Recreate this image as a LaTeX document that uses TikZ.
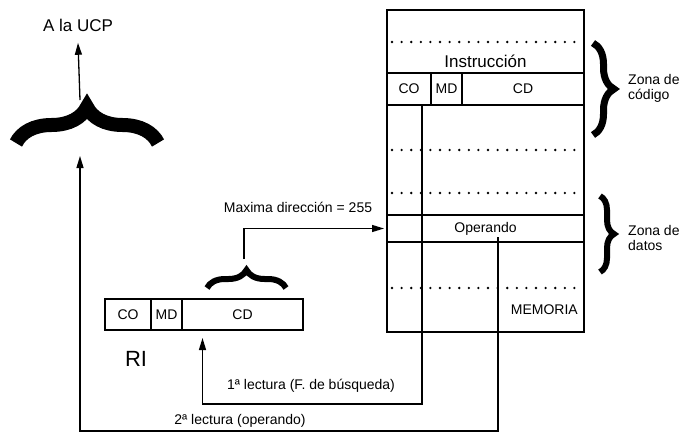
\documentclass[tikz,border=0pt]{standalone}
\usepackage{fontspec}
\setmainfont{Liberation Sans}
\usetikzlibrary{arrows.meta, positioning, decorations.pathreplacing}

\begin{document}
\begin{tikzpicture}[x=1pt, y=-1pt,
  txt/.style={font=\fontsize{14}{15}\selectfont, inner sep=1pt},
  cell/.style={rectangle, draw, line width=1.6pt, minimum height=32pt, inner sep=0pt, outer sep=0pt, font=\fontsize{14}{16}\selectfont},
  membox/.style={rectangle, draw, line width=2.6pt, minimum width=197pt, minimum height=322pt, outer sep=0pt},
  dots/.style={line width=2.6pt, line cap=round, dash pattern=on 0pt off 9.6pt},
  arrow/.style={-{Triangle[length=12pt,width=7pt]}, line width=1.3pt},
  curly/.style={decorate, decoration={brace, amplitude=#1}}
]
  \useasboundingbox (0,0) rectangle (687,436);

  % memoria
  \node[membox] (mem) at (485.5,171) {};
  \node[font=\fontsize{17}{19}\selectfont] (instr) at (485.5,61) {Instrucción};
  \node[cell, minimum width=44pt] (co) at (409,89) {CO};
  \node[cell, minimum width=31pt, right=0pt of co] (md) {MD};
  \node[cell, minimum width=122pt, right=0pt of md] (cd) {CD};
  \node[cell, minimum width=197pt, minimum height=27pt] (oper) at (485.5,228.5) {Operando};
  \foreach \y in {42,150,193,288}
    \draw[dots] (392,\y) -- (580,\y);
  \node[txt, anchor=east] (memlbl) at ([xshift=-5pt,yshift=22pt]mem.south east) {MEMORIA};

  % zonas
  \draw[curly=21, line width=7pt] (593,43) -- (593,135);
  \draw[curly=14, line width=6pt] (600,196) -- (600,272);
  \node[txt, align=left, anchor=west] (zcod) at (627,88) {Zona de\\código};
  \node[txt, align=left, anchor=west] (zdat) at (627,238) {Zona de\\datos};

  % registro de instruccion
  \node[cell, minimum width=46pt, minimum height=31pt] (rco) at (128,314.5) {CO};
  \node[cell, minimum width=31pt, minimum height=31pt, right=0pt of rco] (rmd) {MD};
  \node[cell, minimum width=121pt, minimum height=31pt, right=0pt of rmd] (rcd) {CD};
  \node[font=\fontsize{22}{24}\selectfont] (ri) at (136,359) {RI};

  \draw[curly=18, line width=6pt] (207,288) -- (286,288);
  \coordinate (ptr) at (244,259);
  \node[txt] (maxd) at (298,207) {Maxima dirección = 255};
  \draw[arrow, shorten >=3pt] (ptr) |- (oper.west);

  % UCP
  \draw[curly=36, line width=14pt] (16,143) -- (158,143);
  \coordinate (cpuout) at (80,100);
  \coordinate (cpuin) at (80,156);
  \node[font=\fontsize{17}{19}\selectfont] (ucp) at (78,25) {A la UCP};
  \draw[arrow] (cpuout) -- ([yshift=-8pt]ucp.south);

  % lecturas
  \draw[arrow] ([xshift=13pt]co.south) -- ++(0,299) -| ([xshift=-40pt,yshift=-8pt]rcd.south);
  \node[txt] (lec1) at (311,386) {1ª lectura (F. de búsqueda)};
  \draw[arrow] ([xshift=12.5pt,yshift=5pt]oper.south) -- ++(0,194) -| (cpuin);
  \node[txt] (lec2) at (240,421) {2ª lectura (operando)};
\end{tikzpicture}
\end{document}
